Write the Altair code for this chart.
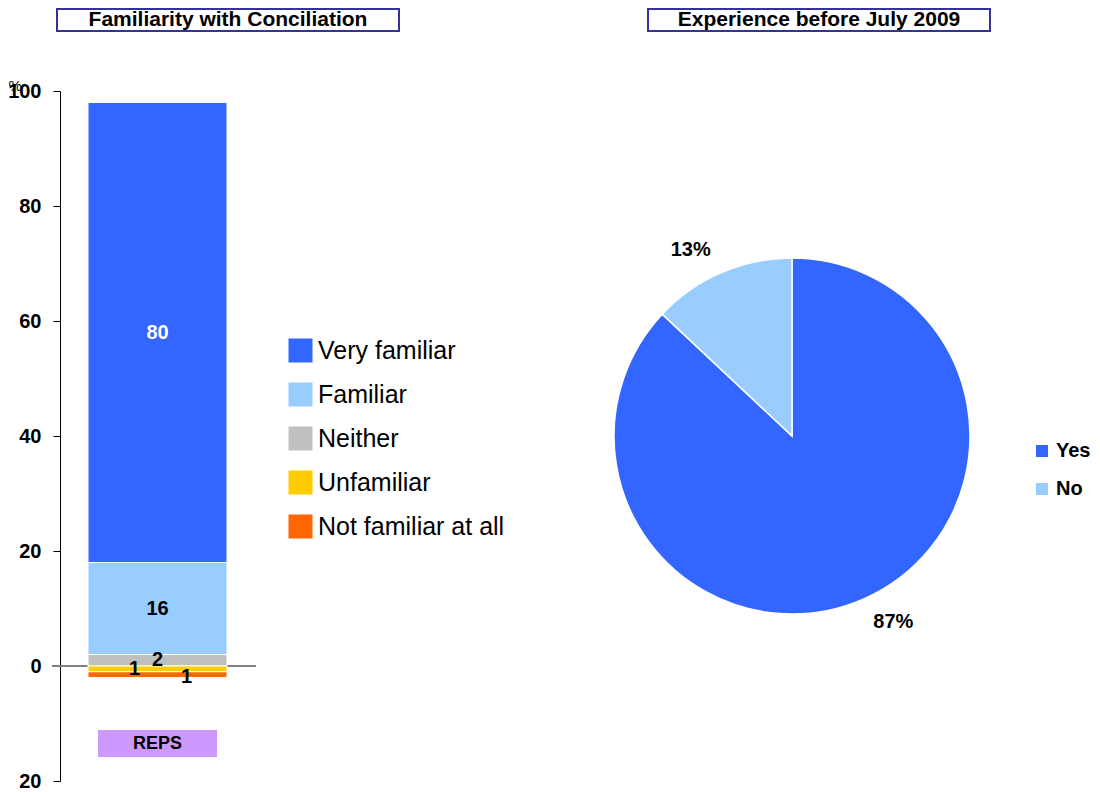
import altair as alt
import pandas as pd

FONT = "Liberation Sans"

# ---- data ----
title_left = "Familiarity with Conciliation"
title_right = "Experience before July 2009"

categories = ["Very familiar", "Familiar", "Neither", "Unfamiliar", "Not familiar at all"]
values = [80, 16, 2, -1, -1]
colors = ["#3366FF", "#99CCFF", "#C0C0C0", "#FFCC00", "#FF6600"]
stack_order = ["Neither", "Familiar", "Very familiar", "Unfamiliar", "Not familiar at all"]
group = "REPS"
y_ticks = [-20, 0, 20, 40, 60, 80, 100]

pie_answers = ["Yes", "No"]
pie_values = [87, 13]
pie_colors = ["#3366FF", "#99CCFF"]

bar_df = pd.DataFrame({
    "cat": categories,
    "value": values,
    "group": [group] * len(categories),
    "rank": [stack_order.index(c) for c in categories],
    "label": [str(abs(v)) for v in values],
})
pie_df = pd.DataFrame({
    "answer": pie_answers,
    "value": pie_values,
    "rank": list(range(len(pie_answers))),
    "label": [f"{v}%" for v in pie_values],
})

# ---- scales / axes ----
xscale = alt.Scale(domain=[group], range=[28, 167], paddingInner=0, paddingOuter=0)
yscale = alt.Scale(domain=[-20, 100], range=[773, 83], nice=False, zero=False)
yaxis = alt.Axis(
    values=y_ticks, labelExpr="abs(datum.value)", grid=False,
    tickSize=7, tickColor="black", domainColor="black",
    labelFont=FONT, labelFontSize=20, labelFontWeight="bold", labelColor="black",
    labelPadding=12, labelBaseline="middle",
    title="%", titleAngle=0, titleX=-52, titleY=70, titleAlign="left",
    titleBaseline="top", titleFont=FONT, titleFontSize=15, titleFontWeight="normal",
    titleColor="black",
)
X = alt.X("group:N", scale=xscale, axis=None)

base = alt.Chart(bar_df).transform_stack(
    stack="value", groupby=["group"], as_=["y0", "y1"],
    sort=[alt.SortField("rank", order="ascending")], offset="zero",
).transform_calculate(mid="(datum.y0 + datum.y1) / 2")

leg1 = alt.Legend(
    orient="none", legendX=228, legendY=330, title=None,
    symbolType="square", symbolSize=576, symbolStrokeWidth=0, symbolOpacity=1,
    labelFont=FONT, labelFontSize=25, labelColor="black", labelLimit=400,
    rowPadding=18, labelOffset=5, padding=0,
)

zero_rule = alt.Chart(pd.DataFrame({"z": [0]})).mark_rule(
    color="#808080", strokeWidth=2
).encode(y=alt.Y("z:Q", scale=yscale, axis=yaxis), x=alt.value(-8), x2=alt.value(196))

bars = base.mark_bar(stroke="white", strokeWidth=1).encode(
    x=X,
    y=alt.Y("y0:Q", scale=yscale, axis=yaxis),
    y2="y1:Q",
    color=alt.Color("cat:N", scale=alt.Scale(domain=categories, range=colors), legend=leg1),
)

txt_props = dict(font=FONT, fontSize=20, fontWeight="bold", baseline="middle")
main_txt = base.transform_filter(
    alt.FieldOneOfPredicate(field="cat", oneOf=["Very familiar", "Familiar", "Neither"])
).mark_text(**txt_props).encode(
    x=X, y=alt.Y("mid:Q", scale=yscale, axis=yaxis), text="label:N",
    color=alt.condition(alt.datum.cat == "Very familiar", alt.value("white"), alt.value("black")),
)
unf_txt = base.transform_filter(alt.datum.cat == "Unfamiliar").mark_text(
    dx=-23, color="black", **txt_props
).encode(x=X, y=alt.Y("mid:Q", scale=yscale, axis=yaxis), text="label:N")
nf_txt = base.transform_filter(alt.datum.cat == "Not familiar at all").mark_text(
    dx=29, dy=2, color="black", **txt_props
).encode(x=X, y=alt.Y("mid:Q", scale=yscale, axis=yaxis), text="label:N")

reps_df = pd.DataFrame({"group": [group]})
reps_box = alt.Chart(reps_df).mark_bar(width=119, color="#CC99FF").encode(
    x=X, y=alt.value(722), y2=alt.value(749)
)
reps_txt = alt.Chart(reps_df).mark_text(
    font=FONT, fontSize=18, fontWeight="bold", color="black", baseline="middle"
).encode(x=X, y=alt.value(736), text="group:N")

bar_layer = alt.layer(zero_rule, bars, main_txt, unf_txt, nf_txt, reps_box, reps_txt)

# ---- pie ----
leg2 = alt.Legend(
    orient="none", legendX=972, legendY=433, title=None,
    symbolType="square", symbolSize=144, symbolStrokeWidth=0, symbolOpacity=1,
    labelFont=FONT, labelFontSize=20, labelFontWeight="bold", labelColor="black",
    rowPadding=18, labelOffset=4, padding=0,
)
pie_base = alt.Chart(pie_df).encode(
    theta=alt.Theta("value:Q", stack=True), order=alt.Order("rank:Q")
)
arc = pie_base.mark_arc(outerRadius=178, stroke="white", strokeWidth=1.5).encode(
    x=alt.value(732), y=alt.value(428),
    color=alt.Color("answer:N", scale=alt.Scale(domain=pie_answers, range=pie_colors), legend=leg2),
)
pie_txt = pie_base.mark_text(
    radius=212, thetaOffset=-0.09, font=FONT, fontSize=20, fontWeight="bold", color="black",
    baseline="middle",
).encode(x=alt.value(732), y=alt.value(428), text="label:N")
pie_layer = alt.layer(arc, pie_txt)

# ---- title boxes ----
def title_box(text, x1, x2):
    d = pd.DataFrame({"t": [text]})
    box = alt.Chart(d).mark_rect(fill="white", stroke="#333399", strokeWidth=2).encode(
        x=alt.value(x1), x2=alt.value(x2), y=alt.value(1), y2=alt.value(23)
    )
    t = alt.Chart(d).mark_text(
        font=FONT, fontSize=21, fontWeight="bold", color="black", baseline="middle"
    ).encode(x=alt.value((x1 + x2) / 2), y=alt.value(12), text="t:N")
    return alt.layer(box, t)

chart = alt.layer(
    title_box(title_left, -3, 339),
    title_box(title_right, 588, 930),
    bar_layer,
    pie_layer,
).resolve_scale(
    color="independent", x="independent", y="independent", theta="independent"
).properties(
    width=1032, height=780,
    autosize=alt.AutoSizeParams(type="none"),
    padding={"left": 52, "top": 0, "right": 0, "bottom": 0},
    background="white",
).configure_view(strokeWidth=0)

chart.save("out.html", embed_options={"renderer": "svg", "actions": False})
